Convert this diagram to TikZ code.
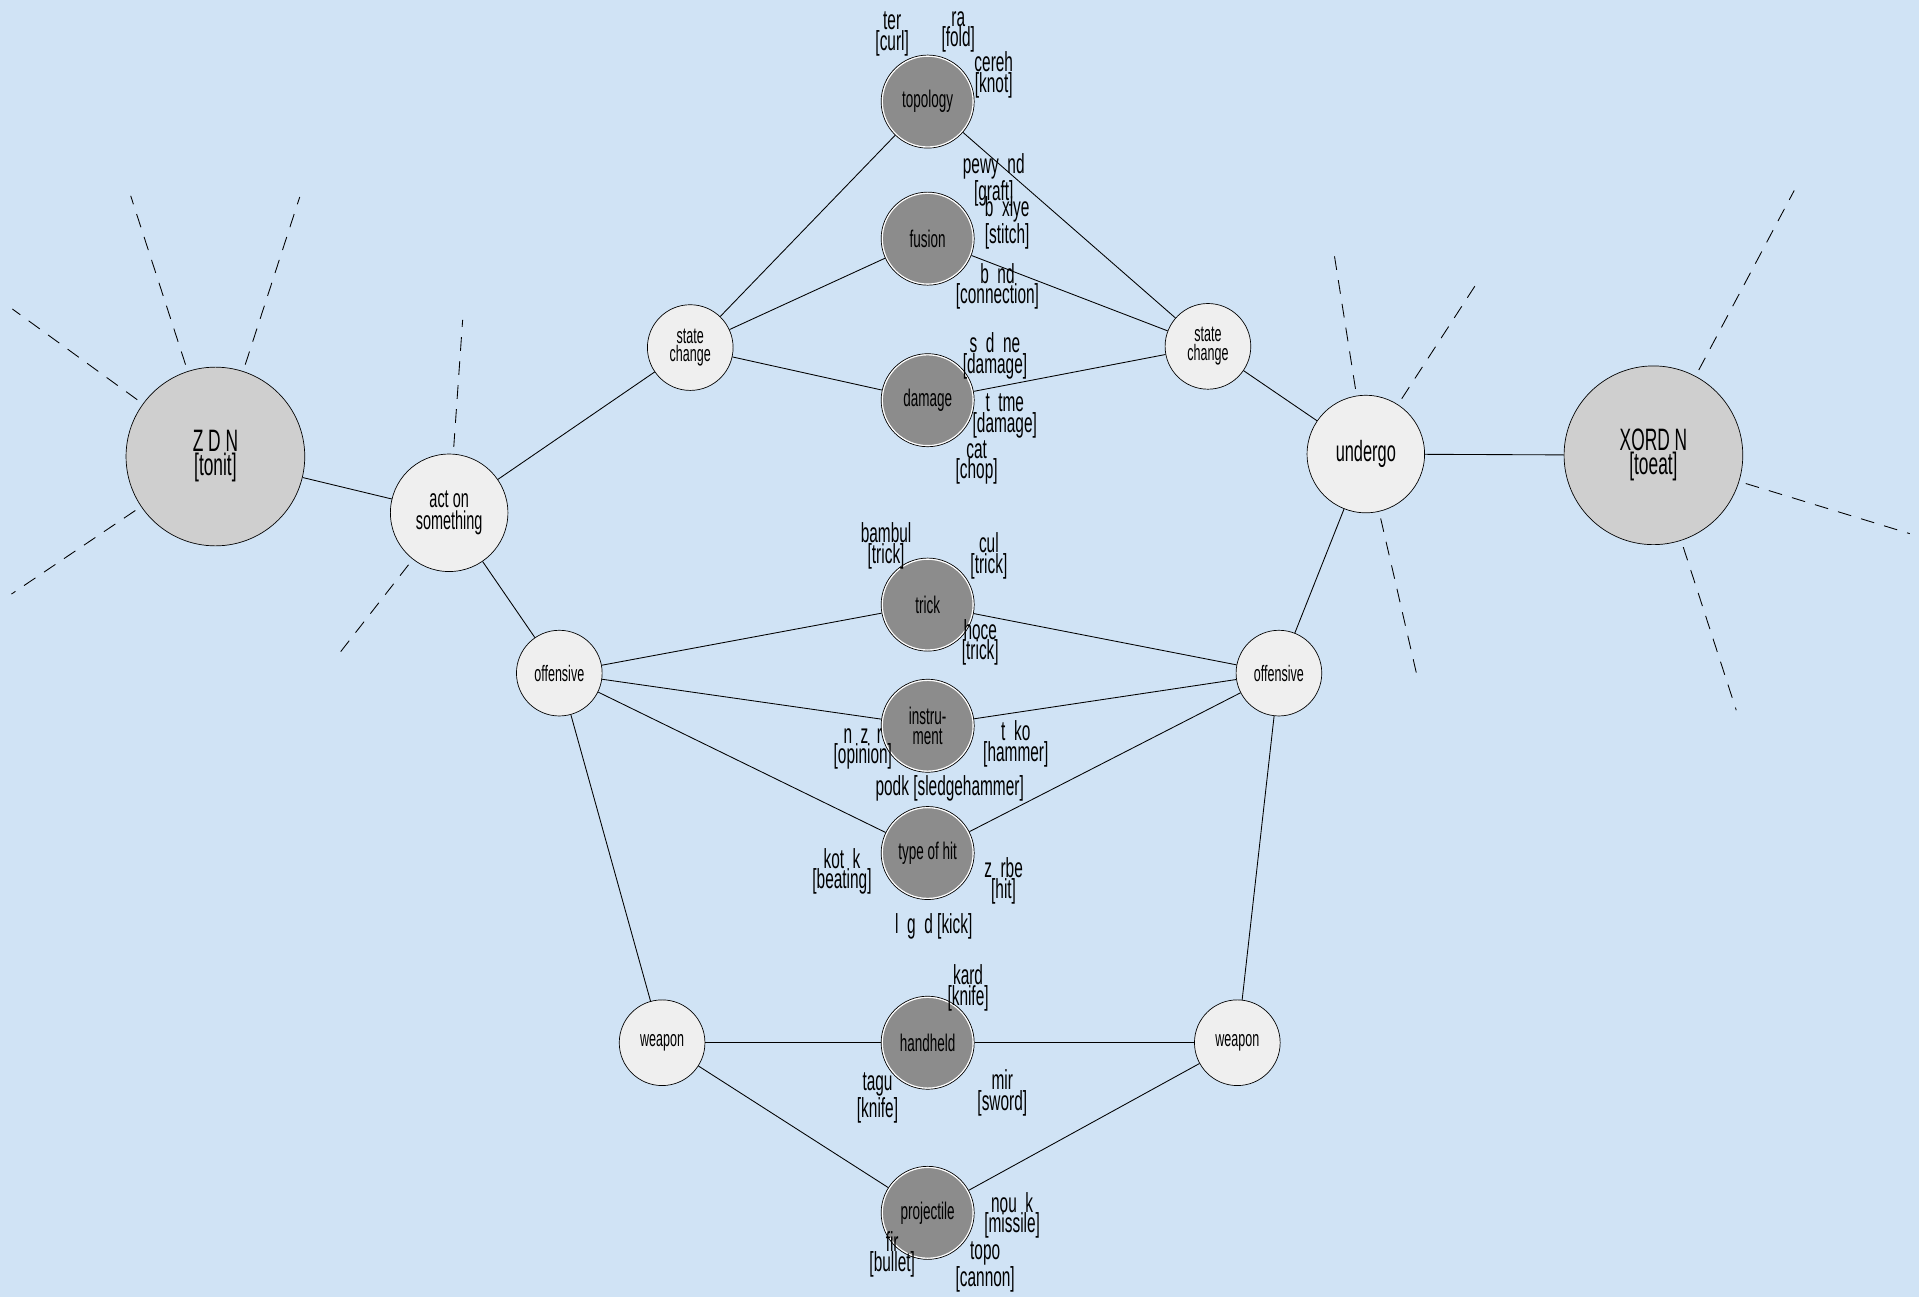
\documentclass[tikz,border=0pt]{standalone}
\usepackage{fontspec}
\setmainfont{Liberation Sans}[FakeStretch=0.56]
\definecolor{bgblue}{HTML}{D0E3F5}
\definecolor{hubgray}{HTML}{EFEFEF}
\definecolor{rootgray}{HTML}{CFCFCF}
\definecolor{leafgray}{HTML}{8C8C8C}
\tikzset{
  root/.style={circle,draw,fill=rootgray,minimum size=3.65cm,inner sep=0pt,align=center,font=\fontsize{18}{14}\selectfont},
  hub/.style={circle,draw,fill=hubgray,minimum size=1.75cm,inner sep=0pt,align=center,font=\fontsize{13}{11}\selectfont},
  leaf/.style={circle,draw,fill=leafgray,minimum size=1.9cm,inner sep=0pt,align=center,font=\fontsize{14}{11.5}\selectfont,
    path picture={\draw[white,line width=2pt] (path picture bounding box.center) circle[radius=0.95cm];}},
  gloss/.style={align=center,inner sep=0pt,font=\fontsize{16}{12}\selectfont},
  link/.style={line width=0.5pt},
  spoke/.style={line width=0.5pt,dash pattern=on 8pt off 6pt,shorten <=4pt},
}
\begin{document}
\begin{tikzpicture}[x=0.025cm,y=-0.025cm]
\fill[bgblue] (0,0) rectangle (1568,1060); % background
\useasboundingbox (0,0) rectangle (1568,1060);

% roots and hubs
\node[root] (zdn) at (176,373) {Z D N\\{}[tonit]};
\node[root] (xord) at (1351,372) {XORD N\\{}[toeat]};
\node[hub,minimum size=2.4cm,font=\fontsize{15}{12.5}\selectfont] (act) at (367,419) {act on\\something};
\node[hub,minimum size=2.4cm,font=\fontsize{17}{13}\selectfont] (und) at (1116,371) {undergo};
\node[hub] (stl) at (564,284) {state\\change};
\node[hub] (str) at (987,283) {state\\change};
\node[hub] (offl) at (457,550) {offensive};
\node[hub] (offr) at (1045,550) {offensive};
\node[hub] (weal) at (541,852) {weapon};
\node[hub] (wear) at (1011,852) {weapon};

% leaves in the middle column
\foreach \n/\y/\txt in {top/83/topology, fus/195/fusion, dam/327/damage, tri/494/trick,
  ins/593/{instru-\\ment}, toh/697/type of hit, han/852/handheld, pro/991/projectile}
  \node[leaf] (\n) at (758,\y) {\txt};

% links
\draw[link] (zdn) -- (act) (act) -- (stl) (act) -- (offl) (str) -- (und)
  (und) -- (xord) (und) -- (offr) (offl) -- (weal) (offr) -- (wear);
\foreach \n in {top,fus,dam} \draw[link] (stl) -- (\n) -- (str);
\foreach \n in {tri,ins,toh} \draw[link] (offl) -- (\n) -- (offr);
\foreach \n in {han,pro} \draw[link] (weal) -- (\n) -- (wear);

% dashed spokes
\foreach \a/\l in {-108/224,-72/223,-144/205,146/201} \draw[spoke] (zdn) -- ++(\a:\l);
\foreach \a/\l in {-86/158,128/145} \draw[spoke] (act) -- ++(\a:\l);
\foreach \a/\l in {-99/167,-57/171,77/191} \draw[spoke] (und) -- ++(\a:\l);
\foreach \a/\l in {-62/245,17/219,72/219} \draw[spoke] (xord) -- ++(\a:\l);

% glosses
\foreach \x/\y/\txt [count=\i] in {
  729/28/{ter\\{}[curl]}, 783/26/{ra\\{}[fold]}, 812/61/{cereh\\{}[knot]},
  812/147/{pewy \ nd\\{}[graft]}, 823/182/{b \ xiye\\{}[stitch]}, 815/234/{b \ nd\\{}[connection]},
  813/291/{s \ d \ ne\\{}[damage]}, 821/340/{t \ tme\\{}[damage]}, 798/378/{cat\\{}[chop]},
  724/446/{bambul\\{}[trick]}, 808/454/{cul\\{}[trick]}, 801/525/{hoce\\{}[trick]},
  705/612/{n \ z \ r\\{}[opinion]}, 830/608/{t \ ko\\{}[hammer]}, 776/644/{podk [sledgehammer]},
  688/712/{kot \ k\\{}[beating]}, 820/720/{z \ rbe\\{}[hit]}, 763/757/{l \ g \ d [kick]},
  791/807/{kard\\{}[knife]}, 717/897/{tagu\\{}[knife]}, 819/893/{mir\\{}[sword]},
  827/993/{nou \ k\\{}[missile]}, 729/1025/{fir\\{}[bullet]}, 805/1035/{topo\\{}[cannon]}}
  \node[gloss] (gl\i) at (\x,\y) {\txt};
\end{tikzpicture}
\end{document}
